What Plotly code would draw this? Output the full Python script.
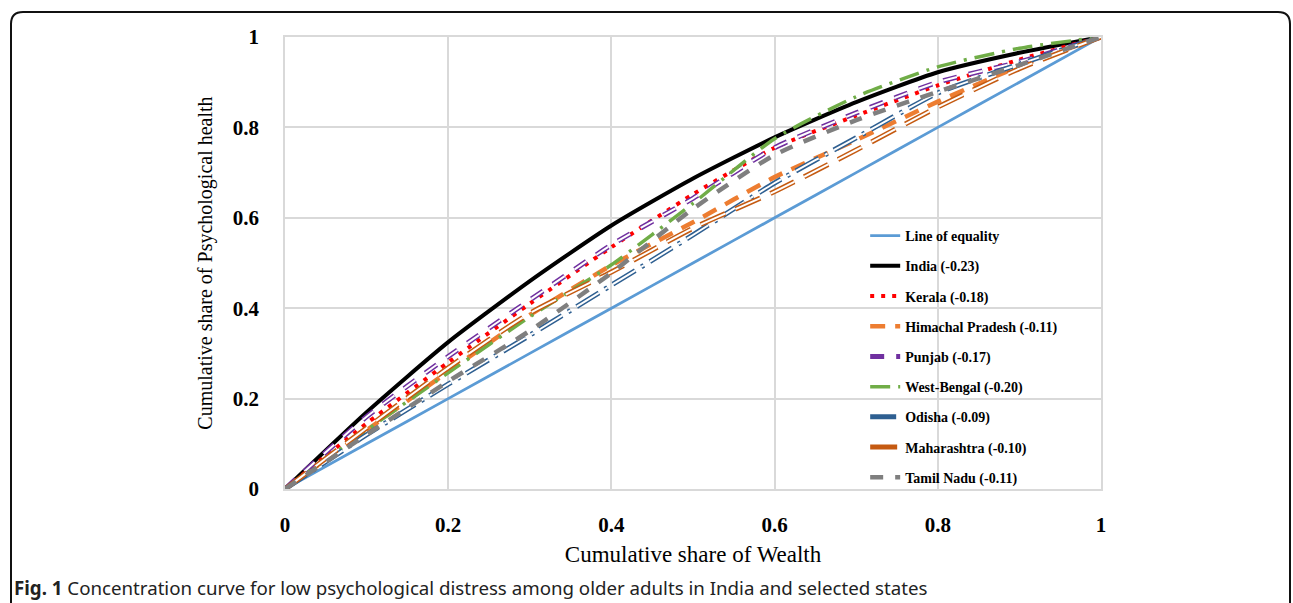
import plotly.graph_objects as go

# ---- data ----
wealth_share = [0, 0.1, 0.2, 0.3, 0.4, 0.5, 0.6, 0.7, 0.8, 0.9, 1.0]
equality = [0, 0.1, 0.2, 0.3, 0.4, 0.5, 0.6, 0.7, 0.8, 0.9, 1.0]
india = [0, 0.17, 0.325, 0.46, 0.583, 0.687, 0.778, 0.856, 0.922, 0.965, 1.0]
kerala = [0, 0.145, 0.28, 0.41, 0.535, 0.652, 0.755, 0.826, 0.893, 0.95, 1.0]
himachal = [0, 0.13, 0.26, 0.385, 0.495, 0.59, 0.69, 0.772, 0.857, 0.935, 1.0]
punjab = [0, 0.16, 0.293, 0.418, 0.54, 0.643, 0.755, 0.832, 0.9, 0.945, 1.0]
west_bengal = [0, 0.13, 0.257, 0.381, 0.496, 0.632, 0.775, 0.868, 0.934, 0.975, 1.0]
odisha = [0, 0.12, 0.232, 0.34, 0.451, 0.562, 0.677, 0.777, 0.876, 0.94, 1.0]
maharashtra = [0, 0.135, 0.268, 0.389, 0.48, 0.577, 0.658, 0.75, 0.845, 0.93, 1.0]
tamil_nadu = [0, 0.12, 0.238, 0.35, 0.478, 0.62, 0.739, 0.816, 0.879, 0.938, 1.0]

names = ["Line of equality", "India (-0.23)", "Kerala (-0.18)", "Himachal Pradesh (-0.11)",
         "Punjab (-0.17)", "West-Bengal (-0.20)", "Odisha (-0.09)", "Maharashtra (-0.10)",
         "Tamil Nadu (-0.11)"]
x_ticks = [0, 0.2, 0.4, 0.6, 0.8, 1]
y_ticks = [0, 0.2, 0.4, 0.6, 0.8, 1]
caption_bold = "Fig. 1"
caption_text = " Concentration curve for low psychological distress among older adults in India and selected states"

series = [equality, india, kerala, himachal, punjab, west_bengal, odisha, maharashtra, tamil_nadu]
# styles: (color, width, dash, inner color or None, inner width)
styles = [
    ("#5B9BD5", 2.8, "solid", None, 0),
    ("#000000", 4, "solid", None, 0),
    ("#FF0000", 4, "4px,7px", None, 0),
    ("#ED7D31", 4.5, "15px,10px", None, 0),
    ("#7030A0", 5, "14px,12px", "#FFFFFF", 2),
    ("#70AD47", 3.5, "20px,8px,3px,8px", None, 0),
    ("#2E5F91", 5, "26px,7px,3px,7px", "#FFFFFF", 2),
    ("#C55A11", 5, "27px,11px", "#FFFFFF", 2),
    ("#7F7F7F", 4.5, "13px,12px", None, 0),
]

fig = go.Figure()
for i, (nm, ys, st) in enumerate(zip(names, series, styles)):
    col, w, dash, inner, iw = st
    fig.add_trace(go.Scatter(
        x=wealth_share, y=ys, mode="lines", name=nm, legendgroup=f"g{i}",
        line=dict(color=col, width=w, dash=dash, shape="spline", smoothing=0.6),
        hoverinfo="skip"))
    if inner:
        fig.add_trace(go.Scatter(
            x=wealth_share, y=ys, mode="lines", name=nm, legendgroup=f"g{i}",
            showlegend=False,
            line=dict(color=inner, width=iw, dash=dash, shape="spline", smoothing=0.6),
            hoverinfo="skip"))

axis_common = dict(
    range=[0, 1], showgrid=True, gridcolor="#D9D9D9", gridwidth=1.5,
    zeroline=False, showline=True, linecolor="#D9D9D9", linewidth=1.5,
    tickfont=dict(family="Liberation Serif", size=21, color="#000000", weight="bold"),
    ticks="outside", tickcolor="rgba(0,0,0,0)", fixedrange=True,
)

fig.update_xaxes(**axis_common, tickvals=x_ticks, ticklen=16, mirror=True,
                 title=dict(text="Cumulative share of Wealth",
                            font=dict(family="Liberation Serif", size=23, color="#000000"),
                            standoff=10))
fig.update_yaxes(**axis_common, tickvals=y_ticks, ticklen=20, mirror=True,
                 title=dict(text="Cumulative share of Psychological health",
                            font=dict(family="Liberation Serif", size=20, color="#000000"),
                            standoff=15))

# rounded frame (top corners rounded, open at bottom edge of the page)
L, R, T, B = 285, 1101, 37, 489
W, H = R - L, B - T
def px(xp):
    return (xp - L) / W
def py(yp):
    return (B - yp) / H
r = 12
path = (f"M {px(11)},{py(620)} L {px(11)},{py(12 + r)} Q {px(11)},{py(12)} {px(11 + r)},{py(12)} "
        f"L {px(1290 - r)},{py(12)} Q {px(1290)},{py(12)} {px(1290)},{py(12 + r)} L {px(1290)},{py(620)}")
fig.add_shape(type="path", path=path, xref="paper", yref="paper",
              line=dict(color="#111111", width=2))

fig.add_annotation(
    text=f"<b>{caption_bold}</b>{caption_text}", xref="paper", yref="paper",
    x=px(12), y=py(587), xanchor="left", yanchor="middle", showarrow=False,
    font=dict(family="Noto Sans", size=18.7, color="#222222"))

fig.update_layout(
    width=1293, height=603,
    margin=dict(l=L, r=1293 - R, t=T, b=603 - B),
    paper_bgcolor="#FFFFFF", plot_bgcolor="#FFFFFF",
    showlegend=True,
    legend=dict(x=0.711, y=0.595, xanchor="left", yanchor="top",
                bgcolor="rgba(0,0,0,0)", tracegroupgap=9,
                font=dict(family="Liberation Serif", size=14, color="#000000", weight="bold")),
)

fig.write_html("out.html", config={"displayModeBar": False},
               post_script="document.body.style.margin='0';document.body.style.overflow='hidden';")
